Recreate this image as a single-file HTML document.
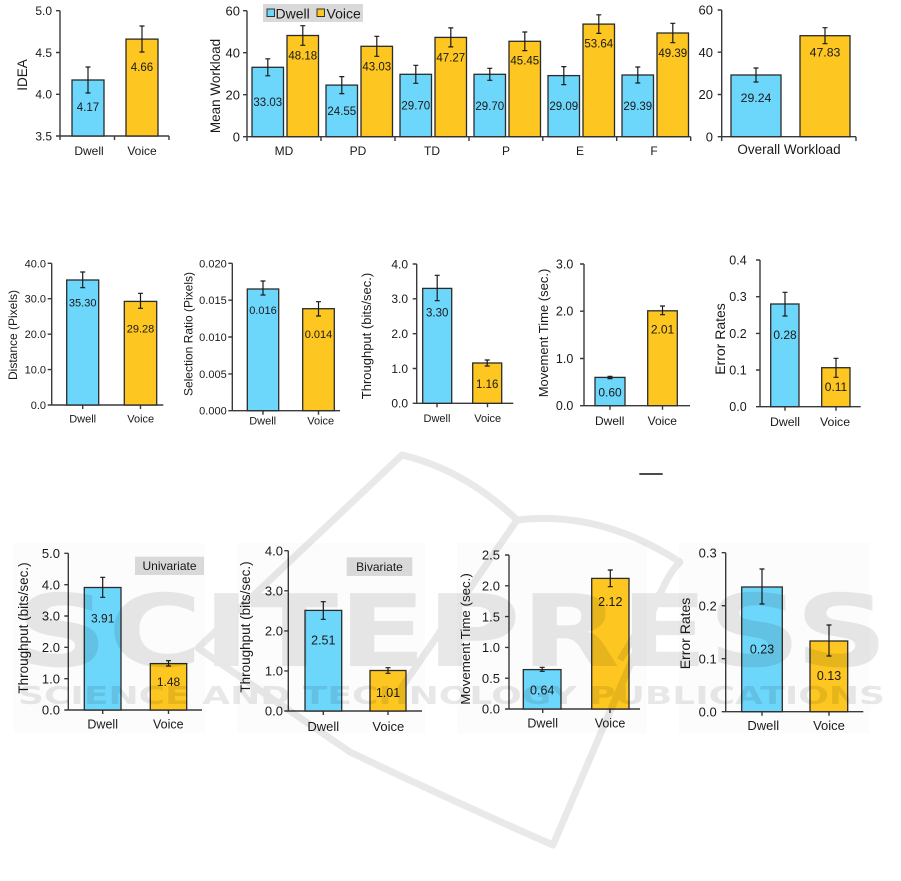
<!DOCTYPE html>
<html><head><meta charset="utf-8"><style>
html,body{margin:0;padding:0;background:#fff;}
svg{display:block;}
text{font-family:"Liberation Sans",Arial,sans-serif;fill:#1a1a1a;}
.ax{stroke:#3a3a3a;stroke-width:1.4;fill:none;}
.bc{fill:#6dd6fb;stroke:#2b2b2b;stroke-width:1.3;}
.by{fill:#fdc620;stroke:#2b2b2b;stroke-width:1.3;}
.eb{stroke:#1a1a1a;stroke-width:1.2;fill:none;}
</style></head><body>
<svg width="901" height="881" viewBox="0 0 901 881" xmlns="http://www.w3.org/2000/svg">
<rect width="901" height="881" fill="#fff"/>
<!-- subtle panels bottom row -->
<rect x="14" y="543" width="191" height="190" fill="#fcfcfc"/>
<rect x="237" y="543" width="188" height="190" fill="#fcfcfc"/>
<rect x="457" y="543" width="190" height="190" fill="#fcfcfc"/>
<rect x="679" y="543" width="191" height="190" fill="#fcfcfc"/>

<!-- ===== Chart 1 IDEA ===== -->
<g>
<path class="ax" d="M60 10.7V136H169 M56 10.7H60 M56 52.5H60 M56 94.3H60 M56 136H60 M60 136V140 M114.5 136V140 M169 136V140"/>
<g font-size="12" text-anchor="end"><text x="52" y="15">5.0</text><text x="52" y="56.8">4.5</text><text x="52" y="98.6">4.0</text><text x="52" y="140.3">3.5</text></g>
<rect class="bc" x="72" y="80" width="32" height="56"/>
<rect class="by" x="126" y="39.1" width="32" height="96.9"/>
<path class="eb" d="M88 67V93 M85.5 67H90.5 M85.5 93H90.5 M142 26V52 M139.5 26H144.5 M139.5 52H144.5"/>
<g font-size="11.5" text-anchor="middle"><text x="88" y="111">4.17</text><text x="142" y="71">4.66</text></g>
<g font-size="12" text-anchor="middle"><text x="89" y="155">Dwell</text><text x="142" y="155">Voice</text></g>
<text font-size="13.5" text-anchor="middle" transform="translate(27,75) rotate(-90)">IDEA</text>
</g>

<!-- ===== Chart 2 Mean Workload ===== -->
<g>
<path class="ax" d="M247 10.7V136.7H690.7 M243 10.7H247 M243 52.7H247 M243 94.7H247 M243 136.7H247
M247 136.7V141 M321 136.7V141 M395 136.7V141 M469 136.7V141 M542.8 136.7V141 M616.7 136.7V141 M690.7 136.7V141"/>
<g font-size="13" text-anchor="end"><text x="240" y="15.3">60</text><text x="240" y="57.3">40</text><text x="240" y="99.3">20</text><text x="240" y="141.3">0</text></g>
<rect class="bc" x="252" y="67.3" width="31.5" height="69.4"/>
<rect class="by" x="287" y="35.5" width="31.5" height="101.2"/>
<rect class="bc" x="326" y="85.1" width="31.5" height="51.6"/>
<rect class="by" x="361" y="46.3" width="31.5" height="90.4"/>
<rect class="bc" x="400" y="74.3" width="31.5" height="62.4"/>
<rect class="by" x="435" y="37.4" width="31.5" height="99.3"/>
<rect class="bc" x="474" y="74.3" width="31.5" height="62.4"/>
<rect class="by" x="509" y="41.3" width="31.5" height="95.4"/>
<rect class="bc" x="548" y="75.6" width="31.5" height="61.1"/>
<rect class="by" x="583" y="24.1" width="31.5" height="112.6"/>
<rect class="bc" x="622" y="75" width="31.5" height="61.7"/>
<rect class="by" x="657" y="33" width="31.5" height="103.7"/>
<path class="eb" d="
M267.8 58.8V75.8 M265.3 58.8H270.3 M265.3 75.8H270.3
M302.8 25.7V45.3 M300.3 25.7H305.3 M300.3 45.3H305.3
M341.8 76.6V93.6 M339.3 76.6H344.3 M339.3 93.6H344.3
M376.8 36.3V56.3 M374.3 36.3H379.3 M374.3 56.3H379.3
M415.8 65.3V83.3 M413.3 65.3H418.3 M413.3 83.3H418.3
M450.8 27.9V46.9 M448.3 27.9H453.3 M448.3 46.9H453.3
M489.8 68.3V80.3 M487.3 68.3H492.3 M487.3 80.3H492.3
M524.8 32V50.6 M522.3 32H527.3 M522.3 50.6H527.3
M563.8 66.6V84.6 M561.3 66.6H566.3 M561.3 84.6H566.3
M598.8 14.8V33.4 M596.3 14.8H601.3 M596.3 33.4H601.3
M637.8 67V83 M635.3 67H640.3 M635.3 83H640.3
M672.8 23.3V42.7 M670.3 23.3H675.3 M670.3 42.7H675.3"/>
<g font-size="11.5" text-anchor="middle">
<text x="267.8" y="106">33.03</text><text x="302.8" y="59.5">48.18</text>
<text x="341.8" y="115">24.55</text><text x="376.8" y="70.3">43.03</text>
<text x="415.8" y="109.5">29.70</text><text x="450.8" y="61.4">47.27</text>
<text x="489.8" y="110">29.70</text><text x="524.8" y="64.5">45.45</text>
<text x="563.8" y="110">29.09</text><text x="598.8" y="47.5">53.64</text>
<text x="637.8" y="110">29.39</text><text x="672.8" y="57">49.39</text>
</g>
<g font-size="12" text-anchor="middle">
<text x="284" y="155">MD</text><text x="358" y="155">PD</text><text x="432" y="155">TD</text>
<text x="506" y="155">P</text><text x="580" y="155">E</text><text x="654" y="155">F</text>
</g>
<text font-size="13.5" text-anchor="middle" transform="translate(220,86) rotate(-90)">Mean Workload</text>
<rect x="263" y="4" width="100" height="18" fill="#d9d9d9"/>
<rect x="267" y="9" width="7.5" height="7.5" fill="#6dd6fb" stroke="#333" stroke-width="1"/>
<text x="275.5" y="18.5" font-size="14">Dwell</text>
<rect x="317" y="9" width="7.5" height="7.5" fill="#fdc620" stroke="#333" stroke-width="1"/>
<text x="326.5" y="18.5" font-size="14">Voice</text>
</g>

<!-- ===== Chart 3 Overall ===== -->
<g>
<path class="ax" d="M721.7 10V136.7H856 M717.7 10H721.7 M717.7 52.2H721.7 M717.7 94.5H721.7 M717.7 136.7H721.7 M721.7 136.7V141 M856 136.7V141"/>
<g font-size="13" text-anchor="end"><text x="713" y="14.6">60</text><text x="713" y="56.8">40</text><text x="713" y="99.1">20</text><text x="713" y="141.3">0</text></g>
<rect class="bc" x="731" y="75" width="50" height="61.7"/>
<rect class="by" x="800" y="35.7" width="50" height="101"/>
<path class="eb" d="M756 68V82 M753.5 68H758.5 M753.5 82H758.5 M825 27.7V43.7 M822.5 27.7H827.5 M822.5 43.7H827.5"/>
<g font-size="12.3" text-anchor="middle"><text x="756" y="102">29.24</text><text x="825" y="56.5">47.83</text></g>
<text x="789" y="154" font-size="13.5" text-anchor="middle">Overall Workload</text>
</g>

<!-- ===== Chart 4 Distance ===== -->
<g>
<path class="ax" d="M51.7 263.3V405H163.3 M47.7 263.3H51.7 M47.7 298.7H51.7 M47.7 334.2H51.7 M47.7 369.6H51.7 M47.7 405H51.7 M82.7 405V409 M140.5 405V409"/>
<g font-size="11" text-anchor="end"><text x="46" y="267.3">40.0</text><text x="46" y="302.7">30.0</text><text x="46" y="338.2">20.0</text><text x="46" y="373.6">10.0</text><text x="46" y="409">0.0</text></g>
<rect class="bc" x="66.7" y="280" width="32" height="125"/>
<rect class="by" x="124.3" y="301.4" width="32.4" height="103.6"/>
<path class="eb" d="M82.7 272V287.7 M80.2 272H85.2 M80.2 287.7H85.2 M140.5 293.3V308.3 M138 293.3H143 M138 308.3H143"/>
<g font-size="11" text-anchor="middle"><text x="82.7" y="306.3">35.30</text><text x="140.5" y="332.3">29.28</text></g>
<g font-size="11" text-anchor="middle"><text x="82.7" y="422.3">Dwell</text><text x="140.7" y="422.3">Voice</text></g>
<text font-size="12" text-anchor="middle" transform="translate(17,335) rotate(-90)">Distance (Pixels)</text>
</g>

<!-- ===== Chart 5 Selection Ratio ===== -->
<g>
<path class="ax" d="M232.3 263.3V410.7H340 M228.3 263.3H232.3 M228.3 300.2H232.3 M228.3 337H232.3 M228.3 373.9H232.3 M228.3 410.7H232.3 M263 410.7V414.7 M318.5 410.7V414.7"/>
<g font-size="11" text-anchor="end"><text x="226.7" y="267.3">0.020</text><text x="226.7" y="304.2">0.015</text><text x="226.7" y="341">0.010</text><text x="226.7" y="377.9">0.005</text><text x="226.7" y="414.7">0.000</text></g>
<rect class="bc" x="247.3" y="289" width="31.4" height="121.7"/>
<rect class="by" x="302.7" y="308.7" width="31.6" height="102"/>
<path class="eb" d="M263 281V295 M260.5 281H265.5 M260.5 295H265.5 M318.5 301.7V316 M316 301.7H321 M316 316H321"/>
<g font-size="11" text-anchor="middle"><text x="263" y="314">0.016</text><text x="318.5" y="338">0.014</text></g>
<g font-size="11" text-anchor="middle"><text x="262.7" y="424.7">Dwell</text><text x="320.7" y="424.7">Voice</text></g>
<text font-size="12" text-anchor="middle" transform="translate(192.5,334) rotate(-90)">Selection Ratio (Pixels)</text>
</g>

<!-- ===== Chart 6 Throughput ===== -->
<g>
<path class="ax" d="M416.7 264V403.3H513.3 M412.7 264H416.7 M412.7 298.8H416.7 M412.7 333.7H416.7 M412.7 368.5H416.7 M412.7 403.3H416.7 M437 403.3V407.3 M487.5 403.3V407.3"/>
<g font-size="12" text-anchor="end"><text x="408" y="268.3">4.0</text><text x="408" y="303.1">3.0</text><text x="408" y="338">2.0</text><text x="408" y="372.8">1.0</text><text x="408" y="407.6">0.0</text></g>
<rect class="bc" x="422.7" y="288.4" width="29" height="114.9"/>
<rect class="by" x="472.7" y="363" width="29" height="40.3"/>
<path class="eb" d="M437.2 275.3V300.7 M434.7 275.3H439.7 M434.7 300.7H439.7 M487.2 360V366 M484.7 360H489.7 M484.7 366H489.7"/>
<g font-size="11.5" text-anchor="middle"><text x="437.2" y="316.7">3.30</text><text x="487.2" y="388">1.16</text></g>
<g font-size="11" text-anchor="middle"><text x="437" y="422">Dwell</text><text x="487.7" y="422">Voice</text></g>
<text font-size="13" text-anchor="middle" transform="translate(371,336) rotate(-90)">Throughput (bits/sec.)</text>
</g>

<!-- ===== Chart 7 Movement Time ===== -->
<g>
<path class="ax" d="M584 264V405.7H690 M580 264H584 M580 311.2H584 M580 358.5H584 M580 405.7H584 M610 405.7V409.7 M662.5 405.7V409.7"/>
<g font-size="12.5" text-anchor="end"><text x="573.3" y="268.5">3.0</text><text x="573.3" y="315.7">2.0</text><text x="573.3" y="363">1.0</text><text x="573.3" y="410.2">0.0</text></g>
<rect class="bc" x="595" y="377.4" width="30" height="28.3"/>
<rect class="by" x="647.7" y="310.8" width="29.6" height="94.9"/>
<path class="eb" d="M610 376.3V378.6 M607.5 376.3H612.5 M607.5 378.6H612.5 M662.5 306V314.7 M660 306H665 M660 314.7H665"/>
<g font-size="12" text-anchor="middle"><text x="610" y="396.5">0.60</text><text x="662.5" y="333.5">2.01</text></g>
<g font-size="12" text-anchor="middle"><text x="609.7" y="425">Dwell</text><text x="662.3" y="425">Voice</text></g>
<text font-size="13" text-anchor="middle" transform="translate(548,333) rotate(-90)">Movement Time (sec.)</text>
</g>

<!-- ===== Chart 8 Error Rates ===== -->
<g>
<path class="ax" d="M760 260V406.7H860.7 M756 260H760 M756 296.7H760 M756 333.4H760 M756 370H760 M756 406.7H760 M785 406.7V410.7 M836 406.7V410.7"/>
<g font-size="12.5" text-anchor="end"><text x="746.7" y="264.5">0.4</text><text x="746.7" y="301.2">0.3</text><text x="746.7" y="337.9">0.2</text><text x="746.7" y="374.5">0.1</text><text x="746.7" y="411.2">0.0</text></g>
<rect class="bc" x="770.7" y="304" width="28.3" height="102.7"/>
<rect class="by" x="821.7" y="367.7" width="28.3" height="39"/>
<path class="eb" d="M785 292.3V316 M782.5 292.3H787.5 M782.5 316H787.5 M836 358.3V377.3 M833.5 358.3H838.5 M833.5 377.3H838.5"/>
<g font-size="12" text-anchor="middle"><text x="785" y="339">0.28</text><text x="836" y="391">0.11</text></g>
<g font-size="12.3" text-anchor="middle"><text x="785" y="426">Dwell</text><text x="835" y="426">Voice</text></g>
<text font-size="14" text-anchor="middle" transform="translate(725,339) rotate(-90)">Error Rates</text>
</g>

<path d="M639.3 474H662.7" stroke="#111" stroke-width="1.5"/>

<!-- ===== Chart 9 Univariate ===== -->
<g>
<path class="ax" d="M68.3 553.3V710H202 M64.3 553.3H68.3 M64.3 584.7H68.3 M64.3 616H68.3 M64.3 647.3H68.3 M64.3 678.7H68.3 M64.3 710H68.3 M102.7 710V714 M168.5 710V714"/>
<g font-size="13" text-anchor="end"><text x="60" y="558">5.0</text><text x="60" y="589.4">4.0</text><text x="60" y="620.7">3.0</text><text x="60" y="652">2.0</text><text x="60" y="683.4">1.0</text><text x="60" y="714.7">0.0</text></g>
<rect class="bc" x="84.3" y="587.5" width="36.7" height="122.5"/>
<rect class="by" x="150.3" y="663.6" width="36.4" height="46.4"/>
<path class="eb" d="M102.7 577.3V597.3 M100.2 577.3H105.2 M100.2 597.3H105.2 M168.5 660.7V666 M166 660.7H171 M166 666H171"/>
<g font-size="12" text-anchor="middle"><text x="102.7" y="622.5">3.91</text><text x="168.5" y="686">1.48</text></g>
<g font-size="12.5" text-anchor="middle"><text x="102.7" y="728.5">Dwell</text><text x="168.3" y="728.5">Voice</text></g>
<rect x="135" y="556.7" width="69" height="18.3" fill="#d9d9d9"/>
<text x="169.5" y="570" font-size="12" text-anchor="middle">Univariate</text>
<text font-size="13.5" text-anchor="middle" transform="translate(28,628) rotate(-90)">Throughput (bits/sec.)</text>
</g>

<!-- ===== Chart 10 Bivariate ===== -->
<g>
<path class="ax" d="M288.3 550.7V711H422 M284.3 550.7H288.3 M284.3 590.8H288.3 M284.3 630.9H288.3 M284.3 670.9H288.3 M284.3 711H288.3 M323.3 711V715 M388 711V715"/>
<g font-size="13" text-anchor="end"><text x="283" y="555.4">4.0</text><text x="283" y="595.5">3.0</text><text x="283" y="635.6">2.0</text><text x="283" y="675.6">1.0</text><text x="283" y="715.7">0.0</text></g>
<rect class="bc" x="305" y="610.4" width="36.7" height="100.6"/>
<rect class="by" x="370" y="670.5" width="36" height="40.5"/>
<path class="eb" d="M323.3 601.7V619.3 M320.8 601.7H325.8 M320.8 619.3H325.8 M388 667.7V673.3 M385.5 667.7H390.5 M385.5 673.3H390.5"/>
<g font-size="12.5" text-anchor="middle"><text x="323.3" y="644.3">2.51</text><text x="388" y="697">1.01</text></g>
<g font-size="13" text-anchor="middle"><text x="323.3" y="731">Dwell</text><text x="388.3" y="731">Voice</text></g>
<rect x="346.7" y="557.3" width="65.6" height="18.7" fill="#d9d9d9"/>
<text x="379.5" y="571" font-size="12" text-anchor="middle">Bivariate</text>
<text font-size="13.5" text-anchor="middle" transform="translate(250,627) rotate(-90)">Throughput (bits/sec.)</text>
</g>

<!-- ===== Chart 11 Movement Time ===== -->
<g>
<path class="ax" d="M509 555V709H640 M505 555H509 M505 585.8H509 M505 616.6H509 M505 647.4H509 M505 678.2H509 M505 709H509 M542.7 709V713 M610 709V713"/>
<g font-size="13" text-anchor="end"><text x="500" y="559.7">2.5</text><text x="500" y="590.5">2.0</text><text x="500" y="621.3">1.5</text><text x="500" y="652.1">1.0</text><text x="500" y="682.9">0.5</text><text x="500" y="713.7">0.0</text></g>
<rect class="bc" x="523.3" y="669.6" width="37.7" height="39.4"/>
<rect class="by" x="591.7" y="578.4" width="37.3" height="130.6"/>
<path class="eb" d="M542.2 667.3V671.3 M539.7 667.3H544.7 M539.7 671.3H544.7 M610.3 570V586.7 M607.8 570H612.8 M607.8 586.7H612.8"/>
<g font-size="12.5" text-anchor="middle"><text x="542.2" y="694.3">0.64</text><text x="610.3" y="606">2.12</text></g>
<g font-size="12.5" text-anchor="middle"><text x="542.7" y="727.5">Dwell</text><text x="610" y="727.5">Voice</text></g>
<text font-size="13.3" text-anchor="middle" transform="translate(470,639) rotate(-90)">Movement Time (sec.)</text>
</g>

<!-- ===== Chart 12 Error Rates ===== -->
<g>
<path class="ax" d="M725.7 552.7V711.7H863.3 M721.7 552.7H725.7 M721.7 605.7H725.7 M721.7 658.7H725.7 M721.7 711.7H725.7 M762 711.7V715.7 M829 711.7V715.7"/>
<g font-size="13" text-anchor="end"><text x="716.7" y="557.4">0.3</text><text x="716.7" y="610.4">0.2</text><text x="716.7" y="663.4">0.1</text><text x="716.7" y="716.4">0.0</text></g>
<rect class="bc" x="741.7" y="587" width="40.6" height="124.7"/>
<rect class="by" x="810" y="641" width="37.7" height="70.7"/>
<path class="eb" d="M762 569V604 M759.5 569H764.5 M759.5 604H764.5 M829 625V656 M826.5 625H831.5 M826.5 656H831.5"/>
<g font-size="12.5" text-anchor="middle"><text x="762" y="653.3">0.23</text><text x="829" y="680">0.13</text></g>
<g font-size="13" text-anchor="middle"><text x="763.3" y="730">Dwell</text><text x="829" y="730">Voice</text></g>
<text font-size="14" text-anchor="middle" transform="translate(690,633.5) rotate(-90)">Error Rates</text>
</g>

<!-- ===== Watermark ===== -->
<g opacity="0.085">
<path d="M402 455 L198 648 L350 752 Q450 800 553 845 L662 590 Q670 572 680 562 Q600 510 517 520 Q465 470 402 455 Z" fill="none" stroke="#000" stroke-width="7" stroke-linejoin="round"/>
<path d="M517 520 L400 690" fill="none" stroke="#000" stroke-width="7"/>
<path d="M662 590 L620 660" fill="none" stroke="#000" stroke-width="7"/>
<text x="15" y="666" font-size="100" font-weight="bold" textLength="873" lengthAdjust="spacingAndGlyphs" style="font-family:'DejaVu Sans','Liberation Sans',sans-serif;fill:#000">SCITEPRESS</text>
<text x="18" y="704" font-size="25" font-weight="bold" textLength="867" lengthAdjust="spacingAndGlyphs" style="font-family:'DejaVu Sans','Liberation Sans',sans-serif;fill:#000">SCIENCE AND TECHNOLOGY PUBLICATIONS</text>
</g>
</svg>
</body></html>
